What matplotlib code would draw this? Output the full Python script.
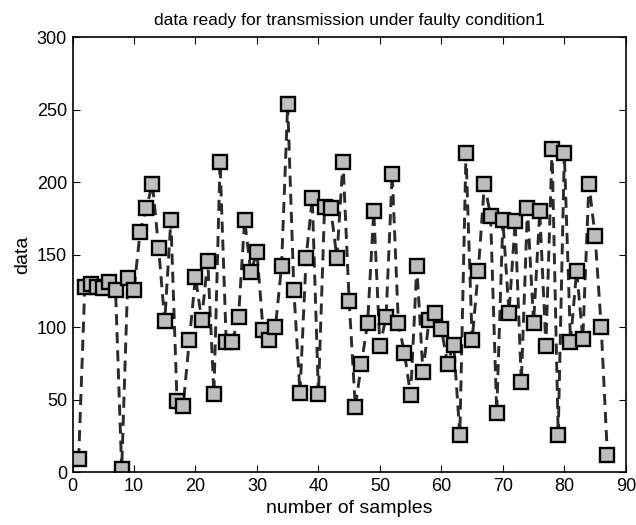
import matplotlib
matplotlib.use("Agg")
import matplotlib.pyplot as plt
import numpy as np

plt.rcParams["font.family"] = ["Liberation Sans Narrow", "Liberation Sans", "DejaVu Sans"]

# sample values ready for transmission (faulty condition 1)
samples = np.arange(1, 88)
data = [
    9, 128, 130, 128, 127, 131, 126, 2, 134, 126,
    166, 182, 199, 155, 104, 174, 49, 46, 91, 135,
    105, 146, 54, 214, 90, 90, 107, 174, 138, 152,
    98, 91, 100, 142, 254, 126, 55, 148, 189, 54,
    183, 182, 148, 214, 118, 45, 75, 103, 180, 87,
    107, 206, 103, 82, 53, 142, 69, 105, 110, 99,
    75, 88, 26, 220, 91, 139, 199, 177, 41, 174,
    110, 173, 62, 182, 103, 180, 87, 223, 26, 220,
    90, 139, 92, 199, 163, 100, 12,
]

fig = plt.figure(figsize=(6.36, 5.25), dpi=100)
ax = fig.add_axes([0.114, 0.1004, 0.870, 0.8286])

ax.plot(samples, data, linestyle="--", dashes=(3.8, 2.4), color="#2b2b2b", lw=2.1,
        marker="s", markersize=9.5, markerfacecolor="#bdbdbd",
        markeredgecolor="black", markeredgewidth=1.7)

ax.set_xlim(0, 90)
ax.set_ylim(0, 300)
ax.set_xticks(np.arange(0, 91, 10))
ax.set_yticks(np.arange(0, 301, 50))
ax.tick_params(direction="in", length=5, top=True, right=True, labelsize=13, pad=4)
for s in ax.spines.values():
    s.set_linewidth(1.2)

ax.set_title("data ready for transmission under faulty condition1", fontsize=12.5, pad=9)
ax.set_xlabel("number of samples", fontsize=14)
ax.set_ylabel("data", fontsize=14)

fig.savefig("out.png", dpi=100)
